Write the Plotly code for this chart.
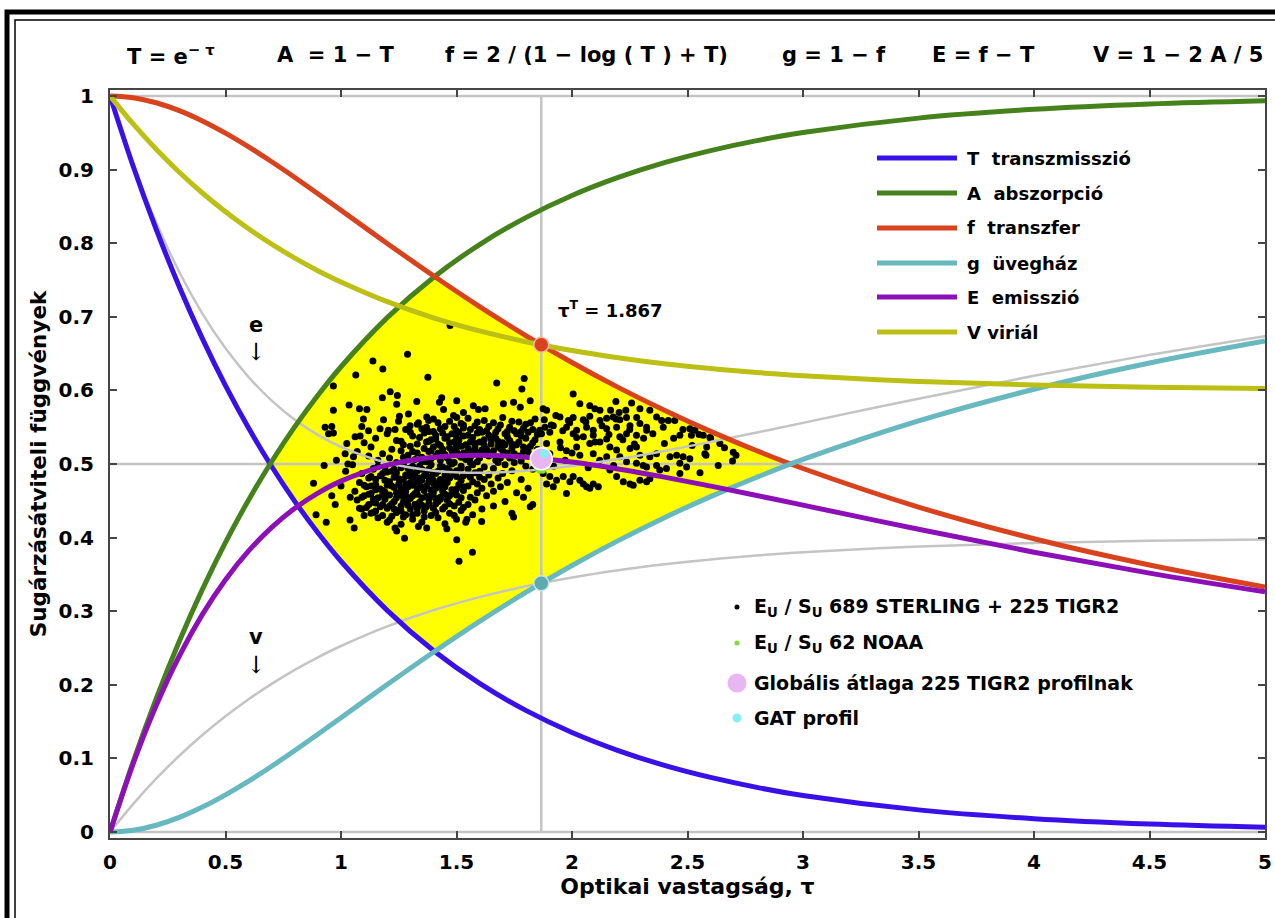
import plotly.graph_objects as go

# ---------------- data ----------------
TAU = [0.0, 0.1, 0.2, 0.3, 0.4, 0.5, 0.6, 0.7, 0.8, 0.9, 1.0,
       1.2, 1.4, 1.6, 1.8, 2.0, 2.2, 2.4, 2.6, 2.8, 3.0, 3.5, 4.0, 4.5, 5.0]
T_TRANS = [1.0, 0.9048, 0.8187, 0.7408, 0.6703, 0.6065, 0.5488, 0.4966, 0.4493, 0.4066, 0.3679,
           0.3012, 0.2466, 0.2019, 0.1653, 0.1353, 0.1108, 0.0907, 0.0743, 0.0608, 0.0498, 0.0302, 0.0183, 0.0111, 0.0067]
A_ABS = [0.0, 0.0952, 0.1813, 0.2592, 0.3297, 0.3935, 0.4512, 0.5034, 0.5507, 0.5934, 0.6321,
         0.6988, 0.7534, 0.7981, 0.8347, 0.8647, 0.8892, 0.9093, 0.9257, 0.9392, 0.9502, 0.9698, 0.9817, 0.9889, 0.9933]
F_TRANSF = [1.0, 0.9976, 0.9907, 0.9800, 0.9660, 0.9494, 0.9308, 0.9105, 0.8892, 0.8671, 0.8446,
            0.7996, 0.7557, 0.7138, 0.6745, 0.6379, 0.6041, 0.5730, 0.5443, 0.5180, 0.4939, 0.4415, 0.3985, 0.3629, 0.3330]
G_GREEN = [0.0, 0.0024, 0.0093, 0.0200, 0.0340, 0.0506, 0.0692, 0.0895, 0.1108, 0.1329, 0.1554,
           0.2004, 0.2443, 0.2862, 0.3255, 0.3621, 0.3959, 0.4271, 0.4557, 0.4820, 0.5062, 0.5585, 0.6015, 0.6371, 0.6670]
E_EMIS = [0.0, 0.0928, 0.1720, 0.2392, 0.2957, 0.3429, 0.3819, 0.4139, 0.4399, 0.4605, 0.4767,
          0.4984, 0.5091, 0.5119, 0.5092, 0.5026, 0.4933, 0.4822, 0.4700, 0.4572, 0.4441, 0.4113, 0.3802, 0.3518, 0.3263]
V_VIRIAL = [1.0, 0.9619, 0.9275, 0.8963, 0.8681, 0.8426, 0.8195, 0.7986, 0.7797, 0.7626, 0.7472,
            0.7205, 0.6986, 0.6808, 0.6661, 0.6541, 0.6443, 0.6363, 0.6297, 0.6243, 0.6199, 0.6121, 0.6073, 0.6044, 0.6027]
E_GRAY = [1.0, 0.9072, 0.8280, 0.7608, 0.7043, 0.6571, 0.6181, 0.5861, 0.5601, 0.5395, 0.5233,
          0.5016, 0.4909, 0.4881, 0.4908, 0.4974, 0.5067, 0.5178, 0.5300, 0.5428, 0.5559, 0.5887, 0.6198, 0.6482, 0.6737]
V_GRAY = [0.0, 0.0381, 0.0725, 0.1037, 0.1319, 0.1574, 0.1805, 0.2014, 0.2203, 0.2374, 0.2528,
          0.2795, 0.3014, 0.3192, 0.3339, 0.3459, 0.3557, 0.3637, 0.3703, 0.3757, 0.3801, 0.3879, 0.3927, 0.3956, 0.3973]

TAU_T = 1.867
POINT_F = 0.662   # f at tau_T
POINT_G = 0.338   # g at tau_T
TIGR_MEAN = [1.867, 0.507]
GAT_PROFILE = [1.880, 0.514]
NOAA_TAU = [1.848, 1.856, 1.862, 1.870, 1.878, 1.885, 1.860, 1.874]
NOAA_Y = [0.494, 0.496, 0.493, 0.495, 0.494, 0.496, 0.491, 0.491]

DOTS = [
 (1.40,0.561),(1.47,0.558),(1.55,0.562),(1.62,0.559),(1.70,0.563),(1.77,0.557),(1.84,0.561),
 (1.33,0.554),(1.45,0.551),(1.52,0.555),(1.58,0.552),(1.66,0.556),(1.73,0.550),(1.80,0.554),
 (1.28,0.547),(1.38,0.544),(1.43,0.548),(1.50,0.545),(1.56,0.547),(1.61,0.543),(1.68,0.548),(1.75,0.545),(1.83,0.547),
 (1.20,0.541),(1.31,0.538),(1.36,0.542),(1.41,0.539),(1.48,0.541),(1.53,0.538),(1.59,0.542),(1.64,0.539),(1.71,0.541),(1.78,0.538),(1.85,0.540),
 (1.15,0.535),(1.24,0.532),(1.34,0.536),(1.39,0.533),(1.45,0.535),(1.51,0.532),(1.57,0.536),(1.62,0.533),(1.67,0.535),(1.73,0.532),(1.80,0.535),
 (1.10,0.529),(1.27,0.526),(1.37,0.530),(1.42,0.527),(1.47,0.529),(1.54,0.526),(1.60,0.530),(1.65,0.527),(1.70,0.529),(1.76,0.526),(1.83,0.529),
 (1.13,0.523),(1.22,0.520),(1.30,0.524),(1.36,0.521),(1.40,0.523),(1.44,0.520),(1.50,0.524),(1.55,0.521),(1.58,0.523),(1.63,0.520),(1.68,0.524),(1.74,0.521),(1.79,0.523),
 (1.07,0.517),(1.18,0.514),(1.26,0.518),(1.33,0.515),(1.38,0.517),(1.43,0.514),(1.48,0.518),(1.53,0.515),(1.57,0.517),(1.61,0.514),(1.66,0.518),(1.72,0.515),(1.81,0.517),
 (1.12,0.511),(1.21,0.508),(1.29,0.512),(1.35,0.509),(1.41,0.511),(1.46,0.508),(1.51,0.512),(1.56,0.509),(1.64,0.511),(1.69,0.508),(1.77,0.511),(1.84,0.509),
 (1.16,0.505),(1.24,0.502),(1.32,0.506),(1.37,0.503),(1.43,0.505),(1.49,0.502),(1.54,0.506),(1.59,0.503),(1.67,0.505),(1.75,0.502),
 (1.05,0.499),(1.19,0.496),(1.27,0.500),(1.34,0.497),(1.39,0.499),(1.44,0.496),(1.48,0.500),(1.52,0.497),(1.57,0.499),(1.62,0.496),(1.71,0.499),(1.80,0.497),
 (1.14,0.493),(1.22,0.490),(1.29,0.494),(1.33,0.491),(1.38,0.493),(1.42,0.490),(1.46,0.494),(1.50,0.491),(1.55,0.493),(1.60,0.490),(1.66,0.494),(1.74,0.491),(1.83,0.493),
 (1.09,0.487),(1.17,0.484),(1.24,0.488),(1.28,0.485),(1.32,0.487),(1.36,0.484),(1.40,0.488),(1.45,0.485),(1.49,0.487),(1.53,0.484),(1.58,0.488),(1.64,0.485),(1.70,0.487),
 (1.12,0.481),(1.19,0.478),(1.23,0.482),(1.27,0.479),(1.31,0.481),(1.35,0.478),(1.39,0.482),(1.43,0.479),(1.47,0.481),(1.52,0.478),(1.56,0.482),(1.62,0.479),(1.68,0.481),(1.78,0.479),
 (1.08,0.475),(1.15,0.472),(1.20,0.476),(1.25,0.473),(1.30,0.475),(1.34,0.472),(1.38,0.476),(1.42,0.473),(1.46,0.475),(1.51,0.472),(1.57,0.476),(1.65,0.473),(1.72,0.475),
 (1.11,0.469),(1.17,0.466),(1.22,0.470),(1.26,0.467),(1.29,0.469),(1.33,0.466),(1.37,0.470),(1.41,0.467),(1.45,0.469),(1.50,0.466),(1.55,0.470),(1.61,0.467),(1.69,0.469),(1.81,0.467),
 (1.06,0.463),(1.13,0.460),(1.18,0.464),(1.24,0.461),(1.28,0.463),(1.32,0.460),(1.36,0.464),(1.40,0.461),(1.44,0.463),(1.48,0.460),(1.53,0.464),(1.59,0.461),(1.66,0.463),(1.76,0.461),
 (1.10,0.457),(1.16,0.454),(1.21,0.458),(1.27,0.455),(1.31,0.457),(1.35,0.454),(1.39,0.458),(1.43,0.455),(1.47,0.457),(1.52,0.454),(1.63,0.457),(1.79,0.455),
 (1.07,0.451),(1.14,0.448),(1.19,0.452),(1.23,0.449),(1.29,0.451),(1.34,0.448),(1.38,0.452),(1.42,0.449),(1.46,0.451),(1.51,0.448),(1.58,0.451),(1.71,0.449),
 (1.12,0.445),(1.17,0.442),(1.22,0.446),(1.26,0.443),(1.32,0.445),(1.37,0.442),(1.41,0.446),(1.49,0.443),(1.55,0.445),(1.66,0.443),(1.83,0.445),
 (1.09,0.439),(1.15,0.436),(1.20,0.440),(1.25,0.437),(1.30,0.439),(1.36,0.436),(1.44,0.439),(1.52,0.437),(1.61,0.439),
 (1.13,0.433),(1.18,0.430),(1.24,0.434),(1.28,0.431),(1.33,0.433),(1.39,0.430),(1.47,0.433),(1.57,0.431),(1.74,0.433),
 (1.16,0.427),(1.21,0.424),(1.27,0.428),(1.31,0.425),(1.42,0.427),(1.50,0.425),
 (1.20,0.421),(1.26,0.418),(1.35,0.421),(1.45,0.419),(1.54,0.421),
 (1.37,0.550),(1.42,0.556),(1.49,0.551),(1.53,0.549),(1.59,0.557),(1.64,0.551),(1.69,0.553),(1.74,0.558),(1.79,0.549),(1.82,0.556),
 (1.40,0.544),(1.46,0.537),(1.51,0.543),(1.55,0.539),(1.63,0.545),(1.66,0.537),(1.72,0.544),(1.76,0.541),(1.81,0.543),(1.86,0.546),
 (1.38,0.531),(1.43,0.525),(1.49,0.530),(1.52,0.524),(1.58,0.528),(1.62,0.525),(1.68,0.531),(1.71,0.526),(1.77,0.530),(1.82,0.524),
 (1.39,0.518),(1.45,0.513),(1.50,0.517),(1.55,0.512),(1.59,0.516),(1.63,0.513),(1.70,0.518),(1.75,0.514),(1.79,0.517),(1.85,0.520),
 (1.14,0.494),(1.20,0.489),(1.26,0.495),(1.30,0.489),(1.35,0.493),(1.41,0.487),(1.47,0.491),
 (1.13,0.483),(1.21,0.476),(1.29,0.484),(1.33,0.477),(1.37,0.484),(1.44,0.477),(1.50,0.483),
 (1.10,0.471),(1.15,0.465),(1.20,0.471),(1.27,0.464),(1.31,0.471),(1.39,0.465),(1.43,0.471),(1.48,0.465),
 (1.12,0.459),(1.19,0.455),(1.25,0.459),(1.30,0.453),(1.33,0.459),(1.41,0.453),(1.45,0.459),
 (1.15,0.447),(1.21,0.443),(1.27,0.448),(1.35,0.444),(1.40,0.440),(1.47,0.446),
 (1.26,0.531),(1.30,0.543),(1.33,0.527),(1.35,0.548),(1.41,0.534),(1.44,0.542),(1.47,0.522),(1.50,0.536),(1.53,0.553),(1.56,0.530),
 (1.60,0.547),(1.61,0.519),(1.65,0.534),(1.67,0.543),(1.69,0.521),(1.72,0.537),(1.74,0.527),(1.78,0.544),(1.80,0.521),(1.84,0.533),
 (1.27,0.509),(1.31,0.517),(1.35,0.503),(1.39,0.507),(1.42,0.515),(1.47,0.503),(1.52,0.509),(1.56,0.502),(1.60,0.508),(1.65,0.515),
 (1.68,0.502),(1.73,0.508),(1.78,0.504),(1.82,0.512),
 (1.16,0.497),(1.23,0.493),(1.31,0.497),(1.37,0.490),(1.43,0.497),(1.52,0.494),
 (1.15,0.479),(1.18,0.487),(1.25,0.480),(1.30,0.486),(1.34,0.481),(1.40,0.478),(1.46,0.484),(1.55,0.486),(1.60,0.482),
 (1.13,0.470),(1.19,0.462),(1.23,0.468),(1.28,0.472),(1.35,0.468),(1.40,0.474),(1.44,0.466),(1.53,0.469),(1.59,0.473),
 (1.09,0.455),(1.14,0.452),(1.18,0.458),(1.24,0.454),(1.28,0.457),(1.37,0.456),(1.43,0.452),(1.50,0.458),(1.56,0.455),
 (1.11,0.441),(1.18,0.445),(1.23,0.439),(1.29,0.444),(1.33,0.440),(1.38,0.446),(1.45,0.442),(1.53,0.441),
 (1.14,0.434),(1.22,0.429),(1.26,0.436),(1.31,0.431),(1.36,0.428),(1.41,0.434),(1.49,0.430),
 (1.472,0.688),(1.288,0.649),(1.138,0.640),(1.181,0.629),(1.064,0.621),(1.376,0.618),(0.967,0.606),(1.674,0.610),
 (1.793,0.616),(1.783,0.602),(1.213,0.598),(1.244,0.593),(1.179,0.590),(1.328,0.585),(1.436,0.590),(1.426,0.584),
 (1.501,0.586),(1.035,0.580),(1.241,0.581),(0.967,0.573),(1.080,0.575),(1.112,0.574),(1.444,0.574),(1.530,0.570),
 (1.573,0.579),(1.595,0.574),(1.624,0.575),(1.703,0.582),(1.747,0.584),(1.776,0.577),(1.819,0.586),(1.292,0.568),
 (1.371,0.564),(1.379,0.559),(1.487,0.566),(1.501,0.563),(1.097,0.561),(1.184,0.560),(1.249,0.558),(1.253,0.565),
 (0.931,0.550),(0.960,0.551),(1.090,0.551),(1.299,0.552),(1.335,0.556),(0.946,0.541),(0.967,0.542),(1.061,0.537),
 (1.083,0.538),(1.119,0.545),(1.169,0.548),(1.205,0.546),(1.234,0.547),(1.025,0.528),(1.018,0.514),(1.054,0.510),
 (0.927,0.498),(0.881,0.474),(0.960,0.457),(0.975,0.445),(0.892,0.431),(0.936,0.421),(1.039,0.424),(1.057,0.413),
 (1.234,0.413),(1.241,0.409),(1.275,0.399),(1.335,0.415),(1.371,0.413),(1.458,0.412),(1.545,0.425),(1.609,0.422),
 (1.501,0.397),(1.569,0.380),(1.511,0.368),(1.747,0.428),(1.819,0.442),
 (1.02,0.490),(1.00,0.470),(1.04,0.455),(1.08,0.440),(1.10,0.430),(0.98,0.505),(1.03,0.500),
 (2.005,0.595),(2.190,0.585),(2.034,0.582),(2.077,0.579),(2.099,0.575),(2.121,0.573),(2.167,0.573),(2.204,0.570),
 (2.233,0.573),(2.258,0.583),(2.294,0.575),(2.337,0.573),(2.366,0.564),(2.388,0.559),(2.417,0.559),(2.445,0.559),
 (1.875,0.575),(1.890,0.573),
 (1.948,0.564),(1.984,0.559),(2.005,0.563),(2.049,0.560),(2.077,0.565),(2.121,0.559),(2.150,0.562),(2.178,0.564),(2.207,0.560),(2.236,0.563),
 (1.883,0.550),(1.919,0.552),(1.976,0.550),(2.020,0.546),(2.063,0.550),(2.092,0.546),(2.150,0.548),(2.193,0.550),(2.251,0.552),(2.294,0.555),(2.323,0.550),(2.395,0.550),
 (1.868,0.541),(1.904,0.543),(2.005,0.541),(2.049,0.537),(2.092,0.539),(2.150,0.534),(2.207,0.537),(2.236,0.541),(2.279,0.539),(2.323,0.546),
 (2.510,0.548),(2.532,0.546),(2.568,0.539),(2.597,0.536),(2.517,0.539),(2.467,0.539),
 (1.890,0.528),(1.948,0.530),(2.020,0.523),(2.077,0.528),(2.121,0.530),(2.164,0.523),(2.193,0.519),(2.251,0.521),(2.279,0.523),
 (2.583,0.523),(2.575,0.514),(2.698,0.516),(2.695,0.504),(2.633,0.498),
 (1.904,0.514),(1.976,0.518),(2.034,0.512),(2.092,0.514),(2.150,0.510),(2.207,0.510),(2.294,0.512),(2.337,0.510),(2.366,0.514),
 (2.424,0.510),(2.453,0.512),(2.481,0.510),(2.510,0.507),(2.496,0.496),(2.467,0.501),
 (2.236,0.503),(2.279,0.501),(2.308,0.498),(2.323,0.496),(2.366,0.498),(2.409,0.494),(2.380,0.492),
 (1.875,0.487),(1.904,0.483),(1.933,0.478),(1.962,0.483),(1.991,0.476),(2.034,0.478),(2.049,0.473),(2.092,0.473),
 (2.164,0.492),(2.193,0.483),(2.222,0.476),(2.265,0.471),(2.294,0.478),(2.323,0.476),(2.337,0.480),(2.467,0.487),(2.554,0.488),
 (1.890,0.473),(1.919,0.469),(1.976,0.460),(2.005,0.483),(2.063,0.469),(2.077,0.467),(2.114,0.469),(2.251,0.473),
 (1.88,0.560),(1.91,0.553),(1.93,0.566),(1.96,0.545),(1.99,0.556),(2.02,0.536),(2.06,0.557),(2.10,0.530),(2.13,0.552),
 (2.16,0.540),(2.19,0.561),(2.22,0.533),(2.25,0.547),(2.28,0.563),(2.31,0.535),(2.35,0.541),(2.27,0.527),(1.95,0.522),
 (2.00,0.515),(2.12,0.505),(2.18,0.498),(1.92,0.497),(1.97,0.505),(2.07,0.495),(2.40,0.528),(2.44,0.535),(2.52,0.525),
 (2.48,0.547),(2.60,0.535),(2.64,0.528),(2.55,0.540),(2.58,0.512),(2.66,0.522),(2.71,0.512),
]
DOT_TAU = [p[0] for p in DOTS]
DOT_Y = [p[1] for p in DOTS]

CURVES = [
    ("T", T_TRANS, "#3a10e8"),
    ("A", A_ABS, "#45821c"),
    ("f", F_TRANSF, "#d8431e"),
    ("g", G_GREEN, "#68b8bf"),
    ("E", E_EMIS, "#8d0fb8"),
    ("V", V_VIRIAL, "#bcbf14"),
]
LEGEND_LINES = ["T\u00a0 transzmisszió", "A\u00a0 abszorpció", "f\u00a0 transzfer",
                "g\u00a0 üvegház", "E\u00a0 emisszió", "V viriál"]
LEGEND_MARKERS = ["E<sub>U</sub> / S<sub>U</sub> 689 STERLING + 225 TIGR2",
                  "E<sub>U</sub> / S<sub>U</sub> 62 NOAA",
                  "Globális átlaga 225 TIGR2 profilnak",
                  "GAT profil"]
FORMULAS = ["T = e<sup>\u2212 \u03c4</sup>", "A\u00a0 = 1 \u2212 T", "f = 2 / (1 \u2212 log ( T ) + T)",
            "g = 1 \u2212 f", "E = f \u2212 T", "V = 1 \u2212 2 A / 5"]

FONT = "DejaVu Sans, Arial, sans-serif"
GRAY = "#c4c4c4"
AX = "#454545"

# ---------------- yellow region between max(T,g) and min(A,f) ----------------
lower = [max(t, g) for t, g in zip(T_TRANS, G_GREEN)]
upper = [min(a, f) for a, f in zip(A_ABS, F_TRANSF)]
diff = [u - l for u, l in zip(upper, lower)]
fx, fu, fl = [], [], []
for i in range(len(TAU)):
    if i > 0 and (diff[i - 1] > 0) != (diff[i] > 0):
        fr = diff[i - 1] / (diff[i - 1] - diff[i])
        xc = TAU[i - 1] + fr * (TAU[i] - TAU[i - 1])
        yc = lower[i - 1] + fr * (lower[i] - lower[i - 1])
        fx.append(xc); fu.append(yc); fl.append(yc)
    if diff[i] > 0:
        fx.append(TAU[i]); fu.append(upper[i]); fl.append(lower[i])

fig = go.Figure()
fig.add_trace(go.Scatter(x=fx + fx[::-1], y=fu + fl[::-1], fill="toself",
                         fillcolor="#ffff00", line=dict(width=0), mode="lines",
                         hoverinfo="skip"))
# gray reference lines
for ys in ([0, 0], [0.5, 0.5], [1, 1]):
    fig.add_trace(go.Scatter(x=[TAU[0], TAU[-1]], y=ys, mode="lines",
                             line=dict(color=GRAY, width=2.5)))
fig.add_trace(go.Scatter(x=[TAU_T, TAU_T], y=[0, 1], mode="lines",
                         line=dict(color=GRAY, width=2.5)))
# data dots
fig.add_trace(go.Scatter(x=DOT_TAU, y=DOT_Y, mode="markers",
                         marker=dict(size=7, color="black", line=dict(width=0))))
# gray auxiliary curves
for arr in (E_GRAY, V_GRAY):
    fig.add_trace(go.Scatter(x=TAU, y=arr, mode="lines", line_shape="spline",
                             line=dict(color=GRAY, width=2.5)))
# main curves
for name, arr, col in CURVES:
    fig.add_trace(go.Scatter(x=TAU, y=arr, mode="lines", line_shape="spline",
                             line=dict(color=col, width=5), name=name))
# special points
fig.add_trace(go.Scatter(x=[TAU_T], y=[POINT_F], mode="markers",
                         marker=dict(size=15, color="#d8431e", line=dict(width=1.5, color="#f3b9a8"))))
fig.add_trace(go.Scatter(x=[TAU_T], y=[POINT_G], mode="markers",
                         marker=dict(size=15, color="#5fa9b1", line=dict(width=1.5, color="#c5e6ea"))))
fig.add_trace(go.Scatter(x=NOAA_TAU, y=NOAA_Y, mode="markers",
                         marker=dict(size=6, color="#7fdc3a", line=dict(width=0))))
fig.add_trace(go.Scatter(x=[TIGR_MEAN[0]], y=[TIGR_MEAN[1]], mode="markers",
                         marker=dict(size=22, color="#e8b6f2", line=dict(width=1.5, color="white"))))
fig.add_trace(go.Scatter(x=[GAT_PROFILE[0]], y=[GAT_PROFILE[1]], mode="markers",
                         marker=dict(size=9, color="#86eef6", line=dict(width=0))))

# ---------------- layout ----------------
W, H = 1275, 918
ML, MR, MT, MB = 110, 10, 90, 80
PW, PH = W - ML - MR, H - MT - MB


def px(x):
    return (x - ML) / PW


def py(y):
    return (H - MB - y) / PH


shapes = []
annotations = []

# outer double frame
shapes.append(dict(type="rect", xref="paper", yref="paper", x0=px(7), x1=px(1300), y0=py(950), y1=py(12),
                   line=dict(color="black", width=5), layer="above"))
shapes.append(dict(type="rect", xref="paper", yref="paper", x0=px(15), x1=px(1300), y0=py(950), y1=py(20),
                   line=dict(color="black", width=1.5), layer="above"))

# line legend
ROW_Y1 = [158, 193, 228, 263, 297, 332]
for (name, arr, col), label, yy in zip(CURVES, LEGEND_LINES, ROW_Y1):
    shapes.append(dict(type="line", xref="paper", yref="paper", x0=px(877), x1=px(957),
                       y0=py(yy), y1=py(yy), line=dict(color=col, width=5)))
    annotations.append(dict(xref="paper", yref="paper", x=px(965), y=py(yy), text="<b>" + label + "</b>",
                            showarrow=False, xanchor="left", yanchor="middle",
                            font=dict(family=FONT, size=18, color="black")))

# marker legend
ROW_Y2 = [607, 643, 683, 718]
MK = [("black", 2.5), ("#7fdc3a", 2.5), ("#e8b6f2", 9.5), ("#86eef6", 4.5)]
for (col, r), label, yy in zip(MK, LEGEND_MARKERS, ROW_Y2):
    shapes.append(dict(type="circle", xref="paper", yref="paper", xsizemode="pixel", ysizemode="pixel",
                       xanchor=px(737), yanchor=py(yy), x0=-r, x1=r, y0=-r, y1=r,
                       fillcolor=col, line=dict(width=0)))
    annotations.append(dict(xref="paper", yref="paper", x=px(752), y=py(yy), text="<b>" + label + "</b>",
                            showarrow=False, xanchor="left", yanchor="middle",
                            font=dict(family=FONT, size=19, color="black")))

# formulas at the top
FX = [125, 275, 443, 780, 930, 1265]
for i, (t, xx) in enumerate(zip(FORMULAS, FX)):
    annotations.append(dict(xref="paper", yref="paper", x=px(xx), y=py(55), text="<b>" + t + "</b>",
                            showarrow=False, xanchor="right" if i == len(FX) - 1 else "left",
                            yanchor="middle", font=dict(family=FONT, size=21, color="black")))

# inline labels
annotations.append(dict(xref="paper", yref="paper", x=px(556), y=py(309),
                        text="<b>\u03c4<sup>T</sup> = 1.867</b>", showarrow=False, xanchor="left",
                        yanchor="middle", font=dict(family=FONT, size=18, color="black")))
for lab, yl, ya in (("e", 325, 352), ("v", 637, 665)):
    annotations.append(dict(xref="paper", yref="paper", x=px(256), y=py(yl), text="<b>" + lab + "</b>",
                            showarrow=False, xanchor="center", yanchor="middle",
                            font=dict(family=FONT, size=21, color="black")))
    annotations.append(dict(xref="paper", yref="paper", x=px(256), y=py(ya), text="\u2193",
                            showarrow=False, xanchor="center", yanchor="middle",
                            font=dict(family="DejaVu Serif, serif", size=24, color="black")))

axis_common = dict(ticks="inside", ticklen=7, tickwidth=1.5, tickcolor=AX, showline=True,
                   linecolor=AX, linewidth=2, mirror="ticks", showgrid=False, zeroline=False,
                   tickfont=dict(family=FONT, size=20, color="black", weight="bold"))

fig.update_layout(
    width=W, height=H, margin=dict(l=ML, r=MR, t=MT, b=MB, autoexpand=False),
    plot_bgcolor="white", paper_bgcolor="white", showlegend=False,
    shapes=shapes, annotations=annotations,
    xaxis=dict(range=[0, 5], dtick=0.5, tick0=0, ticklabelstandoff=5,
               title=dict(text="<b>Optikai vastagság, \u03c4</b>", standoff=2,
                          font=dict(family=FONT, size=22, color="black")),
               **axis_common),
    yaxis=dict(range=[-0.008, 1.008], dtick=0.1, tick0=0, ticklabelstandoff=10,
               title=dict(text="<b>Sugárzásátviteli függvények</b>", standoff=6,
                          font=dict(family=FONT, size=21.5, color="black")),
               **axis_common),
)

fig.write_html("out.html", config={"displayModeBar": False},
               post_script="document.body.style.margin='0';document.body.style.overflow='hidden';")
